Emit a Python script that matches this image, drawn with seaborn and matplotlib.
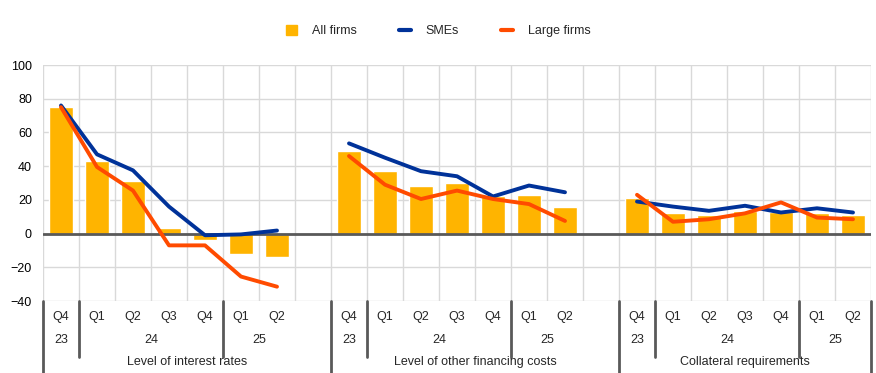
import numpy as np
import pandas as pd
import matplotlib
matplotlib.use("Agg")
import matplotlib.pyplot as plt
import matplotlib.transforms as mtransforms
from matplotlib.lines import Line2D
from matplotlib.patches import Patch
import seaborn as sns

# data
groups = ["Level of interest rates", "Level of other financing costs", "Collateral requirements"]
quarters = ["Q4", "Q1", "Q2", "Q3", "Q4", "Q1", "Q2"]
years = ["23", "24", "25"]
year_spans = [(0, 1), (1, 5), (5, 7)]  # quarter index ranges per year

all_firms = [
    [75, 43, 31, 3.5, -4, -12, -14],
    [49, 37, 28, 30, 22, 23, 16],
    [21, 12, 11, 13.5, 13, 12, 11],
]
smes = [
    [76, 47, 37.5, 16, -1, -0.5, 1.8],
    [53.5, 45, 37, 34, 22, 28.5, 24.5],
    [19, 16, 13.5, 16.5, 12.5, 15, 12.5],
]
large = [
    [75, 39.5, 25.5, -7, -7, -25.5, -31.5],
    [46, 29, 20.5, 25.5, 20.5, 17.5, 7.5],
    [23, 7, 8.5, 12, 18.5, 9.5, 8.5],
]

YELLOW = "#FFB400"
BLUE = "#003299"
ORANGE = "#FF4B00"
GRID = "#d9d9d9"
DARK = "#595959"

group_start = [0, 8, 16]
n_slots = 23

rows = []
for g, name in enumerate(groups):
    for q in range(7):
        x = group_start[g] + q
        rows.append({"group": name, "x": x, "All firms": all_firms[g][q],
                     "SMEs": smes[g][q], "Large firms": large[g][q]})
df = pd.DataFrame(rows)

sns.set_theme(style="white")
plt.rcParams["font.family"] = ["Liberation Sans", "DejaVu Sans"]
plt.rcParams["font.size"] = 9

fig = plt.figure(figsize=(8.76, 3.73), dpi=100)
ax = fig.add_axes([43 / 876, 1 - 301 / 373, 828 / 876, 236 / 373])

sns.barplot(data=df, x="x", y="All firms", native_scale=True, color=YELLOW,
            width=0.67, saturation=1, ax=ax, zorder=2)
for name in groups:
    sub = df[df["group"] == name]
    sns.lineplot(data=sub, x="x", y="SMEs", color=BLUE, lw=2.8, ax=ax, zorder=4,
                 solid_capstyle="round", solid_joinstyle="round")
    sns.lineplot(data=sub, x="x", y="Large firms", color=ORANGE, lw=2.8, ax=ax, zorder=5,
                 solid_capstyle="round", solid_joinstyle="round")

ax.set_xlim(-0.5, n_slots - 0.5)
ax.set_ylim(-40, 100)
ax.set_yticks(np.arange(-40, 101, 20))
ax.set_xticks(np.arange(-0.5, n_slots, 1.0))
ax.set_xticklabels([])
ax.tick_params(axis="both", length=0, colors="#000000")
ax.tick_params(axis="y", pad=8, labelsize=9)
ax.grid(True, color=GRID, lw=1, zorder=0)
ax.set_axisbelow(True)
for s in ax.spines.values():
    s.set_visible(False)
ax.axhline(0, color=DARK, lw=2, zorder=3)
ax.set_xlabel("")
ax.set_ylabel("")

# multi-level category axis
trans = mtransforms.blended_transform_factory(ax.transData, ax.transAxes)
y_q, y_yr, y_grp = -0.066, -0.165, -0.257
for g, name in enumerate(groups):
    s0 = group_start[g]
    for q, lab in enumerate(quarters):
        ax.text(s0 + q, y_q, lab, transform=trans, ha="center", va="center", fontsize=9)
    for yr, (a, b) in zip(years, year_spans):
        ax.text(s0 + (a + b - 1) / 2, y_yr, yr, transform=trans, ha="center", va="center", fontsize=9)
    for a in (1, 5):
        ax.plot([s0 + a - 0.5] * 2, [0, -0.237], transform=trans, color=DARK, lw=2, clip_on=False)
    g_end = group_start[g + 1] if g < 2 else n_slots
    ax.text((s0 + g_end - 1) / 2, y_grp, name, transform=trans, ha="center", va="center", fontsize=9)
for x in (-0.5, 7.5, 15.5, n_slots - 0.5):
    ax.plot([x, x], [0, -0.31], transform=trans, color=DARK, lw=2, clip_on=False)

handles = [Patch(color=YELLOW, label="All firms"),
           Line2D([], [], color=BLUE, lw=3, label="SMEs"),
           Line2D([], [], color=ORANGE, lw=3, label="Large firms")]
fig.legend(handles=handles, loc="center", bbox_to_anchor=(0.5, 1 - 31 / 373), ncol=3,
           frameon=False, handlelength=0.9, handleheight=0.9, columnspacing=3.4,
           handletextpad=1.2, fontsize=9)

fig.savefig("out.png", dpi=100)
